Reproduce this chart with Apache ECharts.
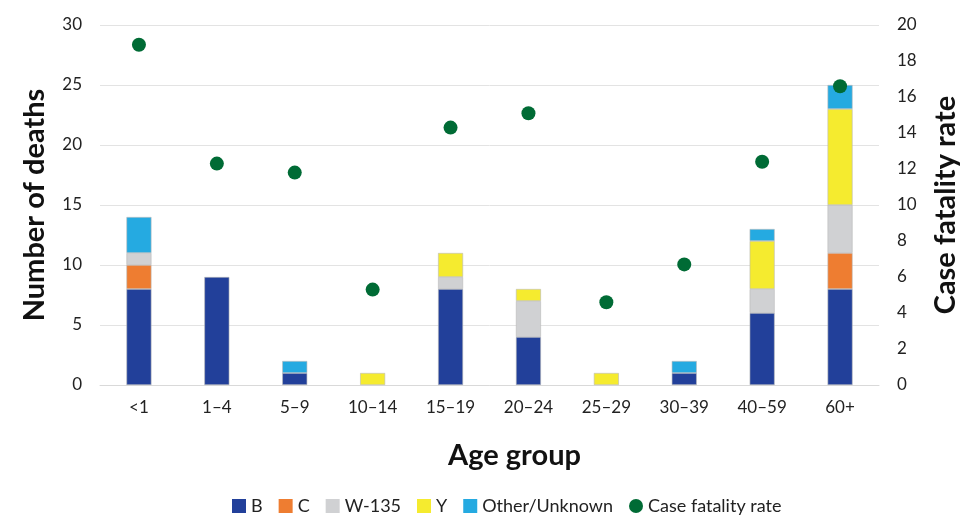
<!DOCTYPE html>
<html><head><meta charset="utf-8">
<script src="https://cdn.jsdelivr.net/npm/echarts@6/dist/echarts.min.js"></script>
<style>html,body{margin:0;padding:0;background:#fff}#c{width:980px;height:532px}</style>
</head><body><div id="c"></div>
<script>
const categories = ['<1','1–4','5–9','10–14','15–19','20–24','25–29','30–39','40–59','60+'];
const seriesB = [8,9,1,0,8,4,0,1,6,8];
const seriesC = [2,0,0,0,0,0,0,0,0,3];
const seriesW135 = [1,0,0,0,1,3,0,0,2,4];
const seriesY = [0,0,0,1,2,1,1,0,4,8];
const seriesOther = [3,0,1,0,0,0,0,1,1,2];
const caseFatalityRate = [18.9,12.3,11.8,5.3,14.3,15.1,4.6,6.7,12.4,16.6];
const leftTicks = [0,5,10,15,20,25,30];
const rightTicks = [0,2,4,6,8,10,12,14,16,18,20];

const font = 'Lato, "Noto Sans", sans-serif';
const chart = echarts.init(document.getElementById('c'), null, {renderer:'canvas'});
function bar(name, data, color){
  return {name, type:'bar', stack:'a', data: data.map(v=>v===0?null:v), barWidth:25,
    itemStyle:{color, borderColor:'#b8b8b8', borderWidth:0.6}, yAxisIndex:0};
}
const nameStyle = {fontSize:29,fontWeight:'bold',color:'#111',fontFamily:font};
chart.setOption({
  animation:false,
  textStyle:{fontFamily:font},
  grid:{left:100,right:101,top:25,bottom:147},
  legend:{bottom:12,left:227,itemWidth:14,itemHeight:14,itemGap:16,
    itemStyle:{borderWidth:0},
    textStyle:{fontSize:18,color:'#222',fontFamily:font},
    data:[{name:'B',icon:'rect'},{name:'C',icon:'rect'},{name:'W-135',icon:'rect'},{name:'Y',icon:'rect'},{name:'Other/Unknown',icon:'rect'},{name:'Case fatality rate',icon:'circle',itemStyle:{opacity:1}}]},
  xAxis:{type:'category',data:categories,
    name:'Age group',nameLocation:'middle',nameGap:56,
    nameTextStyle:Object.assign({},nameStyle,{padding:[0,0,0,50]}),
    axisLine:{lineStyle:{color:'#d9d9d9'}},axisTick:{show:false},
    axisLabel:{fontSize:17,color:'#222',margin:14}},
  yAxis:[
    {type:'value',min:leftTicks[0],max:leftTicks[leftTicks.length-1],interval:5,
     name:'Number of deaths',nameLocation:'middle',nameGap:51,
     nameTextStyle:nameStyle,
     axisLabel:{fontSize:17,color:'#222',margin:18},
     splitLine:{lineStyle:{color:'#e3e3e3'}}},
    {type:'value',min:rightTicks[0],max:rightTicks[rightTicks.length-1],interval:2,position:'right',
     name:'Case fatality rate',nameLocation:'middle',nameGap:52,
     nameTextStyle:nameStyle,
     axisLabel:{fontSize:17,color:'#222',margin:18},
     splitLine:{show:false}}
  ],
  series:[
    bar('B',seriesB,'#22409A'),
    bar('C',seriesC,'#EE7D31'),
    bar('W-135',seriesW135,'#D0D1D3'),
    bar('Y',seriesY,'#F5EB2F'),
    bar('Other/Unknown',seriesOther,'#25AAE1'),
    {name:'Case fatality rate',type:'scatter',yAxisIndex:1,data:caseFatalityRate,symbolSize:14,
     itemStyle:{color:'#006B35',opacity:1},z:5}
  ]
});
</script></body></html>
